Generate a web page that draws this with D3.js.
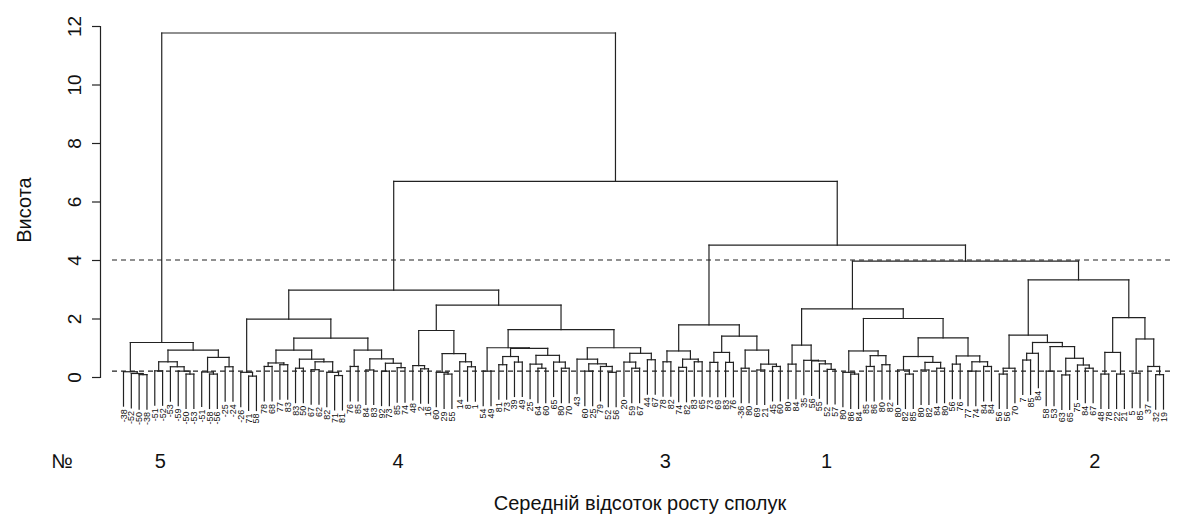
<!DOCTYPE html>
<html><head><meta charset="utf-8">
<script src="https://cdn.jsdelivr.net/npm/d3@7"></script>
<style>
body{margin:0;background:#fff}
text{font-family:"Liberation Sans",Arial,sans-serif;fill:#111}
</style>
</head><body>
<svg id="c" width="1197" height="515"></svg>
<script>
// ---- data: subtrees as [mergeHeight, left, right]; leaves = label values ----
const cluster5 = [1.18,
  [0.18, -38, [0.12, -52, [0.08, -50, -38]]],
  [0.92,
    [0.52, [0.21, -51, -52], [0.35, -53, [0.2, -59, [0.1, -50, -53]]]],
    [0.67, [0.17, -51, [0.1, -58, -56]], [0.35, -25, -24]]]];

const cluster4 = [2.97,
  [1.98,
    [0.16, -26, [0.03, 71, 58]],
    [1.33,
      [0.92,
        [0.48, [0.36, 78, 68], [0.42, 77, 83]],
        [0.61, [0.3, 83, 50], [0.52, [0.25, 67, 62], [0.16, 82, [0.05, 71, 81]]]]],
      [0.92,
        [0.36, 76, 85],
        [0.62, [0.24, 84, 83], [0.47, [0.2, 92, 73], [0.32, 85, 74]]]]]],
  [2.46,
    [1.59,
      [0.39, 48, [0.28, 2, 16]],
      [0.8, [0.16, 60, [0.1, 29, 55]], [0.52, 14, [0.35, 8, 1]]]],
    [1.62,
      [1.0,
        [0.2, 54, 49],
        [0.98,
          [0.7, [0.42, 81, 73], [0.51, 39, 49]],
          [0.74, [0.44, 25, [0.3, 64, 60]], [0.51, 65, [0.3, 80, 70]]]]],
      [1.0,
        [0.61, 43, [0.45, [0.2, 60, 25], [0.36, 79, [0.16, 52, 56]]]],
        [0.81, [0.51, 20, [0.3, 59, 67]], [0.59, 44, 67]]]]]];

const cluster3 = [1.78,
  [0.89, [0.52, 78, 82], [0.61, [0.33, 74, 82], [0.52, 83, 65]]],
  [1.4,
    [0.84, [0.5, 73, 69], [0.5, 83, 76]],
    [0.92, [0.3, -36, 80], [0.44, [0.24, 69, 21], [0.36, 45, 60]]]]];

const cluster1 = [2.33,
  [1.09, [0.44, 80, 84], [0.57, 35, [0.55, 56, [0.45, 55, [0.26, 52, 57]]]]],
  [2.0,
    [0.89, [0.16, 80, [0.1, 86, 84]], [0.73, [0.36, 85, 86], [0.42, 80, 82]]],
    [1.34,
      [0.7, [0.24, 80, [0.1, 82, 85]], [0.5, [0.24, 80, 82], [0.3, 84, 80]]],
      [0.72, [0.44, 56, 76], [0.52, [0.2, 77, 74], [0.36, 84, 84]]]]]];

const cluster2 = [3.32,
  [1.43,
    [0.3, [0.1, 56, 56], 70],
    [1.18,
      [0.81, [0.58, 7, 85], 84],
      [1.04, [0.2, 58, 53], [0.64, [0.07, 63, 65], [0.41, 75, [0.3, 84, 67]]]]]],
  [2.03,
    [0.84, [0.1, 48, 78], [0.1, 22, 21]],
    [1.3, [0.13, 5, 85], [0.36, 37, [0.08, 32, 19]]]]];

const topHeights = [11.76, 6.69, 4.51, 3.96];
const yTicks = [0, 2, 4, 6, 8, 10, 12];
const cutHeights = [4, 0.2];
const clusterIds = ["5", "4", "3", "1", "2"];
const clusterLabelAt = [4.7, 35.1, 69.3, 89.9, 124.2];
const yTitle = "Висота";
const xTitle = "Середній відсоток росту сполук";
const rowTitle = "№";

const tree = [topHeights[0], cluster5,
  [topHeights[1], cluster4,
    [topHeights[2], cluster3,
      [topHeights[3], cluster1, cluster2]]]];

// ---- layout ----
const leaves = [];
function layout(n) {
  if (!Array.isArray(n)) {
    const leaf = {leaf: true, label: n, x: leaves.length};
    leaves.push(leaf);
    return leaf;
  }
  const l = layout(n[1]), r = layout(n[2]);
  return {leaf: false, h: n[0], left: l, right: r, x: (l.x + r.x) / 2};
}
const root = layout(tree);
const N = leaves.length;
const maxH = topHeights[0];
const hang = 0.1 * maxH;

const svg = d3.select("#c");
const x = d3.scaleLinear().domain([0, N - 1]).range([123.5, 1163.5]);
const y = d3.scaleLinear().domain([0, 12]).range([377, 26]);

const g = svg.append("g");
const segs = [];
function collect(n) {
  if (n.leaf) return;
  const yh = y(n.h);
  segs.push([x(n.left.x), yh, x(n.right.x), yh]);
  [n.left, n.right].forEach(c => {
    if (c.leaf) {
      const yb = y(n.h - hang);
      segs.push([x(c.x), yh, x(c.x), yb]);
      c.bottom = yb;
    } else {
      segs.push([x(c.x), yh, x(c.x), y(c.h)]);
      collect(c);
    }
  });
}
collect(root);

// cut lines
g.selectAll("line.cut").data(cutHeights).join("line")
  .attr("x1", 112).attr("x2", 1172)
  .attr("y1", d => y(d)).attr("y2", d => y(d))
  .attr("stroke", "#222").attr("stroke-width", 1.1)
  .attr("stroke-dasharray", "5,4");

g.selectAll("line.seg").data(segs).join("line")
  .attr("x1", d => d[0]).attr("y1", d => d[1])
  .attr("x2", d => d[2]).attr("y2", d => d[3])
  .attr("stroke", "#222").attr("stroke-width", 1.2)
  .attr("stroke-linecap", "square");

// leaf labels
g.selectAll("text.leaf").data(leaves).join("text")
  .attr("transform", d => `translate(${x(d.x) + 3},${d.bottom + 3}) rotate(-90)`)
  .attr("text-anchor", "end")
  .style("font-size", "9px")
  .text(d => String(d.label));

// y axis
const ax = svg.append("g").attr("transform", "translate(100,0)")
  .call(d3.axisLeft(y).tickValues(yTicks).tickSizeOuter(0).tickSize(8).tickFormat(d3.format("d")));
ax.select(".domain").attr("stroke", "#222").attr("stroke-width", 1.2);
ax.selectAll(".tick line").attr("stroke", "#222").attr("stroke-width", 1.2);
ax.selectAll(".tick text")
  .attr("x", 0).attr("dy", 0)
  .attr("transform", "translate(-26,0) rotate(-90)")
  .attr("text-anchor", "middle")
  .attr("dominant-baseline", "central")
  .style("font-size", "19px").style("font-family", "Liberation Sans, Arial, sans-serif")
  .attr("fill", "#111");

svg.append("text")
  .attr("transform", "translate(24,210) rotate(-90)")
  .attr("text-anchor", "middle").attr("dominant-baseline", "central")
  .style("font-size", "20px").text(yTitle);

// cluster numbers
svg.append("text").attr("x", 62).attr("y", 468).attr("text-anchor", "middle")
  .style("font-size", "20px").text(rowTitle);
svg.selectAll("text.cl").data(clusterIds).join("text")
  .attr("x", (d, i) => x(clusterLabelAt[i])).attr("y", 468)
  .attr("text-anchor", "middle").style("font-size", "20px")
  .text(d => d);

svg.append("text").attr("x", 640).attr("y", 510).attr("text-anchor", "middle")
  .style("font-size", "20px").text(xTitle);
</script>
</body></html>
